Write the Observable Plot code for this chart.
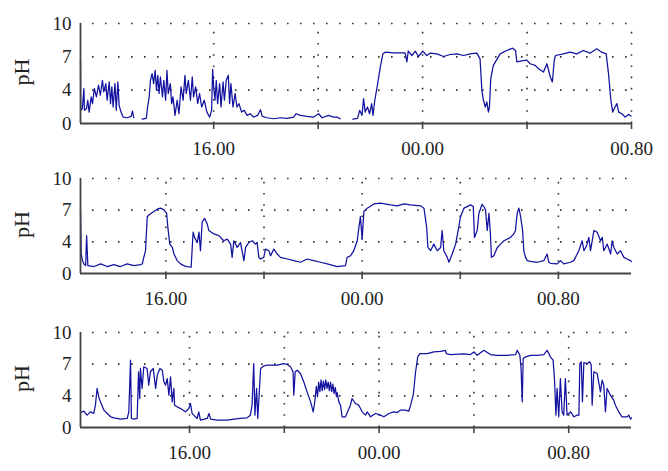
<!DOCTYPE html>
<html>
<head>
<meta charset="utf-8">
<script src="https://cdn.jsdelivr.net/npm/d3@7"></script>
<script src="https://cdn.jsdelivr.net/npm/@observablehq/plot@0.6"></script>
<style>
  html, body { margin: 0; padding: 0; background: #fff; overflow: hidden; }
  #chart svg { display: block; }
</style>
</head>
<body>
<div id="chart"></div>
<script>
// ---- Data (time in hours, pH values) ----
const xTicks = [16, 20, 24, 28, 32];
const xTickLabels = ["16.00", "", "00.00", "", "00.80"];
const yTicks = [0, 4, 7, 10];
const yLabel = "pH";

const xDomain1 = [10.9, 32];
const xDomain2 = [12.52, 34.98];
const xDomain3 = [11.40, 34.65];

const hours1 = [10.90,10.91,10.97,11.03,11.05,11.13,11.18,11.23,11.31,11.36,
11.43,11.51,11.59,11.66,11.74,11.79,11.87,11.92,12.00,12.05,
12.10,12.15,12.22,12.27,12.33,12.38,12.45,12.53,12.68,12.84,
12.89,12.94,
13.10,
13.26,13.42,13.47,13.53,13.58,13.64,13.70,13.76,13.81,13.86,
13.91,13.96,14.04,14.09,14.16,14.21,14.26,14.34,14.39,14.44,
14.52,14.60,14.67,14.75,14.83,14.90,14.95,15.03,15.11,15.18,
15.23,15.31,15.39,15.46,15.54,15.64,15.74,15.85,15.92,15.96,
16.00,16.05,16.10,16.15,16.23,16.28,16.36,16.41,16.48,16.56,
16.61,16.66,16.74,16.82,16.89,16.97,17.07,17.17,17.28,17.40,
17.53,17.68,17.79,17.86,18.04,18.30,18.55,18.81,19.06,19.16,
19.32,19.57,19.83,20.02,20.15,20.40,20.59,20.72,20.85,
21.10,
21.33,21.51,21.59,21.68,21.74,21.80,21.89,21.97,22.05,22.10,
22.17,22.28,22.38,22.48,22.57,22.89,23.33,23.40,23.45,23.59,
23.72,23.84,24.01,24.16,24.29,24.55,24.80,25.06,25.31,25.57,
25.82,26.08,26.20,26.27,26.33,26.40,26.46,26.52,26.56,26.61,
26.71,26.97,27.22,27.45,27.56,27.61,27.80,27.99,28.12,28.31,
28.44,28.63,28.76,28.89,28.97,29.04,29.09,29.39,29.65,29.90,
30.16,30.41,30.67,30.86,31.03,31.12,31.21,31.28,31.37,31.44,
31.51,31.63,31.76,31.89,31.98];
const ph1 = [6.67,1.58,1.78,4.15,1.58,1.78,2.79,1.37,3.19,2.38,
4.15,3.19,4.45,3.39,4.89,3.80,4.59,2.79,4.74,2.38,
4.30,1.98,4.59,1.58,4.74,2.18,1.37,0.77,0.69,0.85,
1.49,0.69,
null,
0.53,0.61,1.98,3.19,4.89,5.49,4.59,5.78,4.0,5.34,
3.60,5.19,3.19,4.89,2.79,5.78,3.60,4.59,2.38,3.19,
0.97,2.79,1.17,4.30,2.79,5.34,3.60,4.89,2.79,5.19,
3.19,4.30,2.38,3.60,1.98,2.79,1.37,0.77,1.58,5.87,
4.30,2.79,4.89,2.38,4.59,1.98,4.74,2.79,4.89,5.34,
2.38,4.59,1.98,3.60,1.98,2.38,1.37,1.58,0.97,1.17,
0.77,0.97,1.66,0.85,0.69,0.57,0.69,0.61,0.77,1.17,
0.97,0.85,0.77,1.17,0.69,0.97,0.77,0.77,0.57,
null,
0.53,0.61,1.58,0.97,2.99,1.37,1.98,1.17,2.38,0.97,
2.79,4.59,6.08,7.27,7.42,7.36,7.36,6.55,7.51,7.12,
7.51,7.03,7.51,7.12,7.33,7.27,7.03,7.21,7.27,7.12,
7.27,7.33,6.82,4.0,2.79,1.98,2.59,1.37,1.98,5.04,
6.23,7.27,7.57,7.78,7.57,6.55,6.64,6.70,6.38,6.23,
5.93,5.63,6.38,5.19,4.74,6.67,7.12,7.27,7.42,7.27,
7.57,7.33,7.72,7.42,7.27,5.49,2.79,1.37,1.98,2.38,
1.37,1.17,0.77,1.09,0.89];

const hours2 = [12.52,12.55,12.60,12.66,12.73,12.77,12.82,13.07,13.34,13.61,
13.88,14.15,14.42,14.70,14.97,15.04,15.10,15.17,15.24,15.31,
15.51,15.65,15.78,15.92,16.03,16.08,16.16,16.26,16.33,16.46,
16.60,16.73,16.87,17.03,17.11,17.17,17.28,17.35,17.41,17.48,
17.58,17.68,17.75,17.96,18.16,18.36,18.50,18.64,18.70,18.77,
18.91,19.04,19.18,19.25,19.38,19.52,19.65,19.72,19.79,19.86,
19.99,20.06,20.20,20.27,20.40,20.54,20.67,20.95,21.22,21.49,
21.76,22.03,22.30,22.58,22.98,23.32,23.39,23.53,23.66,23.80,
23.87,23.93,24.00,24.07,24.21,24.48,24.75,25.16,25.43,25.70,
25.97,26.38,26.52,26.63,26.68,26.79,26.92,27.06,27.20,27.26,
27.33,27.47,27.54,27.67,27.81,27.94,28.01,28.15,28.28,28.42,
28.53,28.58,28.69,28.76,28.89,28.96,29.03,29.10,29.17,29.23,
29.27,29.37,29.51,29.64,29.78,30.05,30.18,30.25,30.32,30.39,
30.46,30.54,30.59,30.66,30.73,30.86,31.14,31.41,31.54,31.61,
31.68,31.95,32.09,32.22,32.49,32.63,32.70,32.83,32.97,33.04,
33.15,33.24,33.31,33.45,33.58,33.72,33.79,33.85,33.99,34.13,
34.19,34.26,34.40,34.53,34.67,34.80,34.94,34.98];
const ph2 = [7.03,2.46,1.63,1.21,1.0,4.59,1.0,0.88,1.21,0.88,
1.13,0.88,1.21,1.0,1.13,1.21,2.04,2.88,6.38,6.54,
6.87,7.09,7.19,7.03,6.71,5.40,3.71,3.29,2.46,1.63,
1.21,1.0,0.88,0.79,4.91,4.42,3.92,4.91,2.88,5.89,
6.22,5.73,5.08,4.75,4.59,4.10,4.26,3.71,2.04,4.10,
3.29,3.92,1.63,3.29,3.92,4.10,3.71,3.92,2.04,1.83,
2.04,3.08,2.88,2.25,3.08,2.46,2.04,1.83,1.63,1.42,
1.83,1.63,1.42,1.21,0.88,1.0,2.04,2.25,2.88,4.10,
5.40,6.38,4.26,6.87,7.19,7.59,7.66,7.5,7.41,7.59,
7.5,7.41,7.19,5.40,3.29,2.88,3.71,2.88,3.29,5.08,
2.88,2.04,1.42,2.46,3.71,5.40,6.38,7.19,7.34,7.5,
7.34,4.42,5.08,6.71,7.56,7.34,7.03,5.08,6.71,4.75,
2.04,2.25,3.29,3.71,4.10,4.42,4.75,5.08,6.71,7.19,
6.38,5.08,2.88,2.04,1.63,1.54,1.42,1.63,2.46,1.42,
1.29,1.21,1.63,1.21,1.42,1.63,2.04,2.88,4.10,2.88,
3.5,4.42,2.88,5.08,4.91,4.10,4.42,2.88,3.71,2.46,
4.10,3.29,2.46,2.88,2.04,1.83,1.63,1.5];

const hours3 = [11.40,11.54,11.68,11.82,11.96,12.03,12.10,12.17,12.24,12.39,
12.53,12.67,12.81,13.09,13.37,13.44,13.51,13.55,13.65,13.79,
13.85,13.90,13.93,14.00,14.07,14.21,14.28,14.35,14.47,14.57,
14.64,14.75,14.85,14.92,14.99,15.06,15.13,15.20,15.27,15.34,
15.37,15.48,15.62,15.83,15.97,16.04,16.11,16.18,16.32,16.39,
16.46,16.75,16.82,16.89,17.17,17.59,17.87,18.15,18.43,18.57,
18.64,18.71,18.76,18.83,18.88,19.00,19.14,19.28,19.70,19.98,
20.12,20.26,20.37,20.40,20.46,20.54,20.68,20.82,20.96,21.11,
21.22,21.30,21.35,21.40,21.45,21.50,21.55,21.60,21.65,21.70,
21.75,21.80,21.85,21.90,21.95,22.00,22.05,22.10,22.15,22.20,
22.23,22.30,22.37,22.44,
22.58,22.79,22.86,23.00,23.14,23.29,23.43,23.50,23.64,23.85,
24.06,24.20,24.41,24.62,24.76,24.90,25.11,25.25,25.33,25.44,
25.54,25.63,25.72,26.03,26.31,26.59,26.80,26.84,27.01,27.58,
27.86,28.00,28.14,28.42,28.70,28.98,29.40,29.76,29.83,29.94,
29.99,30.04,30.08,30.18,30.39,30.67,30.95,31.09,31.23,31.34,
31.40,31.46,31.51,31.58,31.65,31.72,31.79,31.86,31.93,32.08,
32.22,32.36,32.43,32.47,32.53,32.58,32.64,32.78,32.89,32.95,
32.99,33.06,33.20,33.34,33.41,33.48,33.55,33.62,33.76,33.90,
33.97,34.11,34.25,34.47,34.54,34.61,34.65];
const ph3 = [1.89,2.06,1.56,1.98,1.77,2.82,4.70,3.87,3.24,2.19,
1.77,1.35,1.22,1.05,1.14,1.98,7.38,1.14,1.05,1.14,
6.28,3.66,6.59,4.70,6.75,6.59,5.01,6.28,6.59,4.70,
5.96,6.59,6.43,5.33,5.01,5.64,4.06,5.80,3.24,4.70,
2.82,2.61,2.40,1.98,2.40,3.03,1.77,1.56,1.14,1.98,
0.93,1.14,1.77,1.05,0.93,0.93,1.05,1.14,1.22,1.56,
2.82,7.06,1.56,4.70,1.14,6.59,6.84,6.91,6.91,7.06,
6.97,6.75,6.28,4.06,6.28,6.43,6.12,5.33,4.38,3.24,
1.98,3.6,4.9,3.9,5.3,4.4,5.5,4.5,5.4,4.6,
5.5,4.7,5.3,4.5,5.3,4.4,5.1,4.2,4.8,3.9,
4.3,3.24,2.82,1.35,
1.35,2.82,3.66,3.03,2.82,1.98,1.56,1.98,1.35,1.77,
1.56,1.35,1.77,1.98,1.89,2.19,2.19,2.06,2.82,4.06,
6.28,7.69,7.99,7.99,8.16,8.22,8.31,7.99,7.91,7.97,
7.91,8.16,7.84,8.31,7.91,7.84,7.84,7.91,8.31,7.84,
6.59,3.24,7.53,7.69,7.84,7.84,7.91,8.31,7.69,7.38,
5.64,1.56,4.70,1.35,5.64,1.98,1.56,5.64,1.56,1.98,
1.35,1.56,1.56,7.06,7.22,3.24,7.16,7.06,7.22,6.91,
2.82,6.28,6.12,4.38,5.49,5.01,1.98,4.70,4.06,3.45,
2.82,1.98,1.35,1.35,1.56,1.05,1.22];

// ---- Layout ----
const W = 668, ML = 80, MR = 37;
const FONT = "'Liberation Serif', 'DejaVu Serif', serif";
const panels = [
  {hours: hours1, ph: ph1, domain: xDomain1, height: 160, mt: 23, mb: 37},
  {hours: hours2, ph: ph2, domain: xDomain2, height: 158, mt: 18, mb: 45},
  {hours: hours3, ph: ph3, domain: xDomain3, height: 153, mt: 14, mb: 44}
];

// The pH axis has its labelled ticks (0, 4, 7, 10) equally spaced:
// a piecewise-linear transform of the pH values through those ticks.
const pieces = d3.scaleLinear().domain(yTicks).range(yTicks.map((_, i) => i));
const yTransform = v => (v == null ? NaN : pieces(v));
const yMin = yTicks[0], yMax = yTicks[yTicks.length - 1];

const root = document.getElementById("chart");
for (const p of panels) {
  const rows = p.hours.map((h, i) => ({h, ph: p.ph[i]}));
  const chart = Plot.plot({
    width: W, height: p.height,
    marginLeft: ML, marginRight: MR, marginTop: p.mt, marginBottom: p.mb,
    style: {fontFamily: FONT, fontSize: "19px", color: "#222", background: "#fff"},
    x: {domain: p.domain, axis: null},
    y: {transform: yTransform, domain: [0, yTicks.length - 1], axis: null},
    marks: [
      Plot.ruleY(yTicks.slice(1), {stroke: "#333", strokeWidth: 1.6, strokeDasharray: "1.6,11.4", strokeDashoffset: 1}),
      Plot.ruleX(xTicks, {y1: yMin, y2: yMax, stroke: "#333", strokeWidth: 1.6, strokeDasharray: "1.6,9.6"}),
      Plot.line(rows, {x: "h", y: "ph", stroke: "#1212a0", strokeWidth: 1.25}),
      Plot.ruleX([p.domain[0]], {y1: yMin, y2: yMax, stroke: "#444", strokeWidth: 1.8}),
      Plot.ruleY([yMin], {stroke: "#444", strokeWidth: 1.8}),
      Plot.axisX({ticks: xTicks.filter(t => t >= p.domain[0] && t <= p.domain[1]),
                  tickFormat: d => xTickLabels[xTicks.indexOf(d)],
                  tickSize: 6, tickPadding: 12, stroke: "#444", strokeWidth: 1.6,
                  fontSize: 19, label: null}),
      Plot.text(yTicks, {x: () => p.domain[0], y: d => d, text: d => String(d),
                         textAnchor: "end", dx: -9, fontSize: 19, fill: "#222"}),
      Plot.text([yLabel], {frameAnchor: "left", dx: -59, dy: 12, rotate: -90, fontSize: 22, fill: "#222"})
    ]
  });
  root.appendChild(chart);
}
</script>
</body>
</html>
